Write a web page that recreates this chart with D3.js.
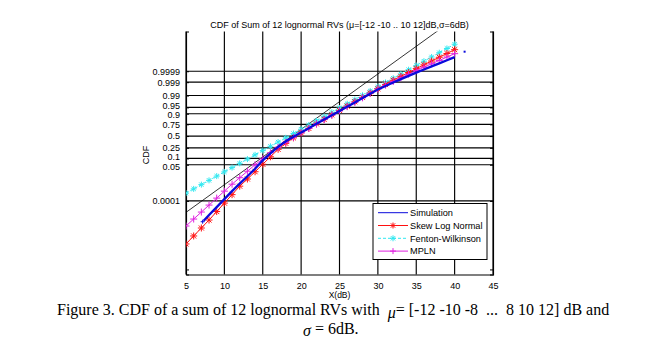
<!DOCTYPE html>
<html><head><meta charset="utf-8">
<script src="https://cdn.jsdelivr.net/npm/d3@7"></script>
<style>body{margin:0;background:#fff;} svg{display:block;}</style>
</head><body><svg id="c" width="645" height="356"></svg>
<script>
// ---------- data (x in dB, CDF given as its standard-normal quantile, i.e. probit(CDF)) ----------
const xTicks = [5, 10, 15, 20, 25, 30, 35, 40, 45];
const yTickProbs = [1e-14, 0.0001, 0.05, 0.1, 0.25, 0.5, 0.75, 0.9, 0.95, 0.99, 0.999, 0.9999];
const yTickLabels = ["", "0.0001", "0.05", "0.1", "0.25", "0.5", "0.75", "0.9", "0.95", "0.99", "0.999", "0.9999"];
const yLimits = [1e-15, 1 - 1e-9];

const xdB = [5,6,7,8,9,10,11,12,13,14,15,16,17,18,19,20,21,22,23,24,25,26,27,28,29,30,31,32,33,34,35,36,37,38,39,40];
const skewLogNormal = [-6.189,-5.731,-5.274,-4.817,-4.331,-3.846,-3.360,-2.874,-2.463,-2.046,-1.617,-1.189,-0.760,-0.417,-0.103,0.183,0.440,0.697,0.954,1.211,1.469,1.714,1.966,2.215,2.465,2.715,2.960,3.200,3.423,3.646,3.869,4.086,4.303,4.520,4.737,4.954];
const fentonWilkinson = [-3.274,-3.030,-2.786,-2.542,-2.298,-2.054,-1.809,-1.565,-1.321,-1.077,-0.833,-0.589,-0.345,-0.101,0.143,0.388,0.632,0.876,1.120,1.364,1.608,1.852,2.096,2.340,2.585,2.829,3.073,3.317,3.561,3.805,4.049,4.293,4.537,4.781,5.025,5.269];
const mpln = [-5.160,-4.760,-4.360,-3.960,-3.560,-3.160,-2.760,-2.389,-2.017,-1.646,-1.303,-0.960,-0.646,-0.360,-0.074,0.183,0.440,0.697,0.943,1.194,1.440,1.686,1.937,2.194,2.451,2.697,2.920,3.131,3.343,3.549,3.754,3.949,4.143,4.337,4.531,4.726];
const simX = [7.3,8,9,10,11,12,13,14,15,16,17,18,19,20,21,22,23,24,25,26,27,28,29,30,31,32,33,34,35,36,37,38,39,40];
const simulation = [-4.857,-4.531,-4.074,-3.617,-3.160,-2.731,-2.303,-1.874,-1.389,-0.989,-0.617,-0.303,-0.046,0.211,0.451,0.703,0.954,1.194,1.440,1.680,1.926,2.177,2.429,2.669,2.869,3.069,3.263,3.451,3.640,3.817,3.994,4.171,4.349,4.526];
const simTailX = [41.3];
const simTail = [4.84];
const refX = [5, 10, 15, 20, 25, 30, 35, 40];
const refLine = [-4.377, -2.790, -1.202, 0.386, 1.973, 3.561, 5.148, 6.736];

const seriesNames = ["Simulation", "Skew Log Normal", "Fenton-Wilkinson", "MPLN"];
const colors = {sim: "#0a0adc", skew: "#ff1010", fw: "#30e8f0", mpln: "#e020e0"};

// ---------- normal quantile (probability axis transform) ----------
function probit(p){
  const a=[-3.969683028665376e+01,2.209460984245205e+02,-2.759285104469687e+02,1.383577518672690e+02,-3.066479806614716e+01,2.506628277459239e+00];
  const b=[-5.447609879822406e+01,1.615858368580409e+02,-1.556989798598866e+02,6.680131188771972e+01,-1.328068155288572e+01];
  const c=[-7.784894002430293e-03,-3.223964580411365e-01,-2.400758277161838e+00,-2.549732539343734e+00,4.374664141464968e+00,2.938163982698783e+00];
  const d=[7.784695709041462e-03,3.224671290700398e-01,2.445134137142996e+00,3.754408661907416e+00];
  const pl=0.02425, ph=1-pl; let q,r;
  if(p<pl){q=Math.sqrt(-2*Math.log(p));return (((((c[0]*q+c[1])*q+c[2])*q+c[3])*q+c[4])*q+c[5])/((((d[0]*q+d[1])*q+d[2])*q+d[3])*q+1);}
  if(p<=ph){q=p-0.5;r=q*q;return (((((a[0]*r+a[1])*r+a[2])*r+a[3])*r+a[4])*r+a[5])*q/(((((b[0]*r+b[1])*r+b[2])*r+b[3])*r+b[4])*r+1);}
  q=Math.sqrt(-2*Math.log(1-p));return -(((((c[0]*q+c[1])*q+c[2])*q+c[3])*q+c[4])*q+c[5])/((((d[0]*q+d[1])*q+d[2])*q+d[3])*q+1);
}

// ---------- layout ----------
const L = 186, R = 493, T = 31.5, B = 274.5;
const svg = d3.select("#c");
const sans = "'Liberation Sans', Arial, sans-serif";
const serif = "'Liberation Serif', 'Times New Roman', serif";

const x = d3.scaleLinear().domain([5, 45]).range([L, R]);
const y = d3.scaleLinear().domain([probit(yLimits[0]), probit(yLimits[1])]).range([B, T]);

svg.append("defs").append("clipPath").attr("id", "plotclip")
  .append("rect").attr("x", L).attr("y", T).attr("width", R - L).attr("height", B - T);

// grid
const grid = svg.append("g").attr("stroke", "#000").attr("stroke-width", 1.15);
grid.selectAll("line.v").data(xTicks).join("line")
  .attr("x1", d => x(d)).attr("x2", d => x(d)).attr("y1", T).attr("y2", B);
grid.selectAll("line.h").data(yTickProbs.filter((p, i) => yTickLabels[i] !== "")).join("line")
  .attr("x1", L).attr("x2", R).attr("y1", d => y(probit(d))).attr("y2", d => y(probit(d)));

// axes
const xAxis = d3.axisBottom(x).tickValues(xTicks).tickSize(0).tickPadding(8).tickFormat(d3.format("d"));
const gx = svg.append("g").attr("transform", `translate(0,${B})`).call(xAxis);
gx.select(".domain").attr("stroke", "#000").attr("stroke-width", 1.15);
gx.selectAll("text").attr("font-family", sans).attr("font-size", 9).attr("fill", "#000");

const labelNudge = {"0.95": -1.5, "0.9": 1, "0.1": -1.8, "0.05": 1.6};
const yAxis = d3.axisLeft(y).tickValues(yTickProbs.map(probit)).tickSize(-3).tickPadding(6)
  .tickFormat((d, i) => yTickLabels[i]);
const gy = svg.append("g").attr("transform", `translate(${L},0)`).call(yAxis);
gy.select(".domain").attr("stroke", "#000").attr("stroke-width", 1.15);
gy.selectAll("line").attr("stroke", "#000");
gy.selectAll("text").attr("font-family", sans).attr("font-size", 9).attr("fill", "#000")
  .attr("transform", function(){ const t = d3.select(this).text(); return `translate(0,${labelNudge[t] || 0})`; });

const yAxisR = d3.axisRight(y).tickValues(yTickProbs.map(probit)).tickSize(-3).tickFormat("");
const gyr = svg.append("g").attr("transform", `translate(${R},0)`).call(yAxisR);
gyr.select(".domain").attr("stroke", "#000").attr("stroke-width", 1.15);
gyr.selectAll("line").attr("stroke", "#000");

// axis titles & title
svg.append("text").attr("x", (L + R) / 2).attr("y", 297.5).attr("text-anchor", "middle")
  .attr("font-family", sans).attr("font-size", 8.5).text("X(dB)");
svg.append("text").attr("transform", "translate(148.5,155) rotate(-90)").attr("text-anchor", "middle")
  .attr("font-family", sans).attr("font-size", 9).text("CDF");
svg.append("text").attr("x", (L + R) / 2).attr("y", 27.5).attr("text-anchor", "middle")
  .attr("font-family", sans).attr("font-size", 9)
  .text("CDF of Sum of 12 lognormal RVs (\u03bc=[-12 -10 .. 10 12]dB,\u03c3=6dB)");

// ---------- series ----------
const plot = svg.append("g").attr("clip-path", "url(#plotclip)");
const line = d3.line().x(d => x(d[0])).y(d => y(d[1]));
const zip = (xs, ys) => xs.map((v, i) => [v, ys[i]]);

function markerPath(type, cx, cy, s){
  const p = d3.path();
  if (type === "+" || type === "*"){ p.moveTo(cx - s, cy); p.lineTo(cx + s, cy); p.moveTo(cx, cy - s); p.lineTo(cx, cy + s); }
  if (type === "x" || type === "*"){ const k = type === "*" ? s * 0.72 : s;
    p.moveTo(cx - k, cy - k); p.lineTo(cx + k, cy + k); p.moveTo(cx - k, cy + k); p.lineTo(cx + k, cy - k); }
  return p.toString();
}

// unlabelled thin black reference line
plot.append("path").datum(zip(refX, refLine)).attr("d", line)
  .attr("fill", "none").attr("stroke", "#000").attr("stroke-width", 0.8);

function drawSeries(xs, ys, color, marker, size, dash){
  const pts = zip(xs, ys);
  plot.append("path").datum(pts).attr("d", line).attr("fill", "none")
    .attr("stroke", color).attr("stroke-width", 1).attr("stroke-dasharray", dash || null);
  plot.append("g").selectAll("path").data(pts).join("path")
    .attr("d", d => markerPath(marker, x(d[0]), y(d[1]), size))
    .attr("fill", "none").attr("stroke", color).attr("stroke-width", 1);
}
drawSeries(xdB, fentonWilkinson, colors.fw, "*", 3, "3,2");
drawSeries(xdB, skewLogNormal, colors.skew, "*", 3.5);
drawSeries(xdB, mpln, colors.mpln, "+", 3.5);

plot.append("path").datum(zip(simX, simulation)).attr("d", line)
  .attr("fill", "none").attr("stroke", colors.sim).attr("stroke-width", 2.3);
plot.append("path").attr("d", markerPath("+", x(simX[0]) - 1, y(simulation[0]) + 1, 2))
  .attr("stroke", colors.sim).attr("stroke-width", 1);
plot.selectAll("rect.tail").data(zip(simTailX, simTail)).join("rect")
  .attr("x", d => x(d[0]) - 1).attr("y", d => y(d[1]) - 1).attr("width", 2).attr("height", 2)
  .attr("fill", colors.sim);

// ---------- legend ----------
const lg = svg.append("g");
lg.append("rect").attr("x", 373).attr("y", 203.5).attr("width", 114).attr("height", 56)
  .attr("fill", "#fff").attr("stroke", "#000").attr("stroke-width", 1);
const legendSpec = [
  {name: seriesNames[0], color: colors.sim, marker: null, dash: null},
  {name: seriesNames[1], color: colors.skew, marker: "*", dash: null},
  {name: seriesNames[2], color: colors.fw, marker: "*", dash: "3,2"},
  {name: seriesNames[3], color: colors.mpln, marker: "+", dash: null}
];
legendSpec.forEach((s, i) => {
  const ly = 212.7 + i * 12.8;
  lg.append("line").attr("x1", 378).attr("x2", 408).attr("y1", ly).attr("y2", ly)
    .attr("stroke", s.color).attr("stroke-width", 1).attr("stroke-dasharray", s.dash);
  if (s.marker) lg.append("path").attr("d", markerPath(s.marker, 393, ly, 3))
    .attr("fill", "none").attr("stroke", s.color).attr("stroke-width", 1);
  lg.append("text").attr("x", 410).attr("y", ly + 3.3).attr("font-family", sans)
    .attr("font-size", 9.2).text(s.name);
});

// ---------- caption ----------
const cap1 = svg.append("text").attr("x", 57).attr("y", 315).attr("font-family", serif)
  .attr("font-size", 16).style("white-space", "pre");
cap1.append("tspan").text("Figure 3. CDF of a sum of 12 lognormal RVs with  ");
cap1.append("tspan").attr("font-style", "italic").attr("dy", 3).text("\u03bc");
cap1.append("tspan").attr("dy", -3).text("= [-12 -10 -8  ...  8 10 12] dB and");
const cap2 = svg.append("text").attr("x", 303).attr("y", 334).attr("font-family", serif)
  .attr("font-size", 16).style("white-space", "pre");
cap2.append("tspan").attr("font-style", "italic").attr("dy", 1.5).text("\u03c3");
cap2.append("tspan").attr("dy", -1.5).text(" = 6dB.");
</script></body></html>
